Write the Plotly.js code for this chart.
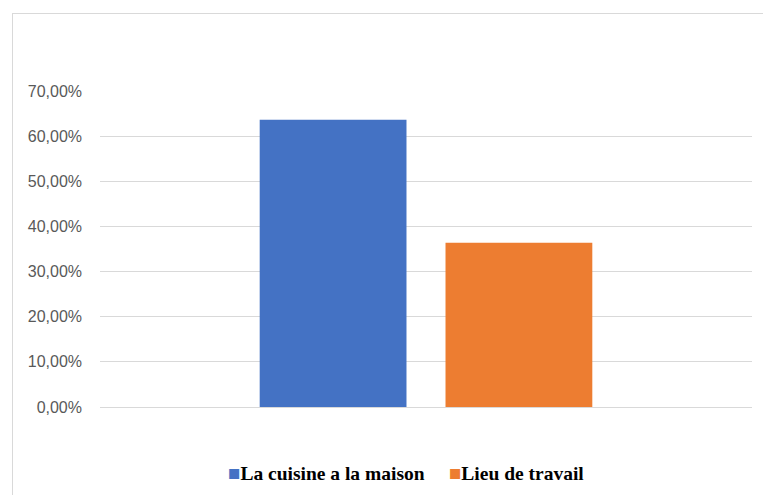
<!DOCTYPE html>
<html>
<head>
<meta charset="utf-8">
<script src="https://cdn.plot.ly/plotly-3.0.1.min.js"></script>
<style>
  html, body { margin: 0; padding: 0; background: #ffffff; overflow: hidden; }
  #chart { position: absolute; left: 0; top: 0; width: 763px; height: 495px; }
  #frame { position: absolute; left: 12px; top: 13px; width: 800px; height: 520px;
           border-left: 1px solid #d9d9d9; border-top: 1px solid #d9d9d9;
           pointer-events: none; }
</style>
</head>
<body>
<div id="chart"></div>
<div id="frame"></div>
<script>
// Share of answers per place where meals are taken (percent)
const category = [""];
const seriesNames = ["La cuisine a la maison", "Lieu de travail"];
const seriesValues = [[63.64], [36.36]];
const seriesColors = ["#4472c4", "#ed7d31"];
const yTicks = [0, 10, 20, 30, 40, 50, 60, 70];
const yTickText = yTicks.map(v => v.toFixed(2).replace(".", ",") + "%");

const traces = seriesNames.map((name, i) => ({
  type: "bar",
  name: name,
  x: category,
  y: seriesValues[i],
  marker: { color: seriesColors[i], line: { width: 0 } },
  hoverinfo: "name+y"
}));

// Legend line: coloured square followed by the bold series name
const legendText = seriesNames.map((name, i) =>
  "<span style='color:" + seriesColors[i] + ";font-size:20.5px'>\u25A0</span><b>" + name + "</b>"
).join("\u2003 ");

const layout = {
  width: 763,
  height: 495,
  margin: { l: 100, r: 11, t: 91, b: 88, autoexpand: false },
  paper_bgcolor: "#ffffff",
  plot_bgcolor: "#ffffff",
  barmode: "group",
  bargap: 0.43,
  bargroupgap: 0.21,
  showlegend: false,
  xaxis: {
    type: "category",
    showticklabels: false,
    showgrid: false,
    zeroline: false,
    showline: false,
    ticks: ""
  },
  yaxis: {
    range: [0, 70],
    tickmode: "array",
    tickvals: yTicks,
    ticktext: yTickText,
    showgrid: true,
    gridcolor: "#d9d9d9",
    gridwidth: 1,
    zeroline: true,
    zerolinecolor: "#d9d9d9",
    zerolinewidth: 1,
    showline: false,
    ticks: "",
    ticklabelstandoff: 17,
    tickfont: { family: "Liberation Sans, Arial, sans-serif", size: 16, color: "#595959" }
  },
  annotations: [{
    xref: "paper",
    yref: "paper",
    x: 0.469,
    y: -0.209,
    xanchor: "center",
    yanchor: "middle",
    showarrow: false,
    text: legendText,
    font: { family: "Liberation Serif, Times New Roman, serif", size: 19.5, color: "#000000" }
  }]
};

Plotly.newPlot("chart", traces, layout, { staticPlot: true, displayModeBar: false });
</script>
</body>
</html>
